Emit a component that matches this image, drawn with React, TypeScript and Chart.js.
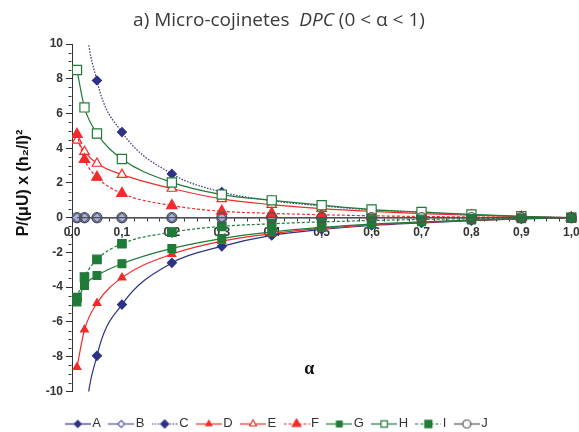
import React, { useEffect, useRef } from 'react';
import { Chart, registerables } from 'chart.js';

Chart.register(...registerables);

// ---------- data ----------
const alphaValues = [0.01, 0.025, 0.05, 0.1, 0.2, 0.3, 0.4, 0.5, 0.6, 0.7, 0.8, 0.9, 1.0];
const seriesLabels = ['A', 'B', 'C', 'D', 'E', 'F', 'G', 'H', 'I', 'J'];
const seriesA = [-22, -12.5, -7.95, -5.0, -2.6, -1.65, -1.02, -0.68, -0.45, -0.3, -0.17, -0.07, 0];
const seriesB = [0, 0, 0, 0, 0, 0, 0, 0, 0, 0, 0, 0, 0];
const seriesC = [22, 12.5, 7.9, 4.93, 2.52, 1.48, 0.98, 0.68, 0.45, 0.3, 0.17, 0.07, 0];
const seriesD = [-8.6, -6.45, -4.92, -3.45, -2.1, -1.35, -0.92, -0.62, -0.41, -0.27, -0.15, -0.06, 0];
const seriesE = [4.45, 3.8, 3.12, 2.48, 1.68, 1.08, 0.75, 0.52, 0.36, 0.24, 0.14, 0.06, 0];
const seriesF = [4.8, 3.35, 2.33, 1.4, 0.7, 0.37, 0.25, 0.17, 0.11, 0.07, 0.04, 0.02, 0];
const seriesG = [-4.85, -3.9, -3.33, -2.65, -1.77, -1.2, -0.82, -0.56, -0.37, -0.24, -0.14, -0.06, 0];
const seriesH = [8.5, 6.35, 4.85, 3.38, 2.03, 1.33, 1.0, 0.72, 0.47, 0.33, 0.19, 0.08, 0];
const seriesI = [-4.6, -3.42, -2.4, -1.5, -0.83, -0.5, -0.35, -0.24, -0.16, -0.1, -0.06, -0.03, 0];
const seriesJ = [0, 0, 0, 0, 0, 0, 0, 0, 0, 0, 0, 0, 0];
const xTickLabels = ['0,0', '0,1', '0,2', '0,3', '0,4', '0,5', '0,6', '0,7', '0,8', '0,9', '1,0'];
const yTickStep = 2;
const chartTitleParts = ['a) Micro-cojinetes  ', 'DPC', ' (0 < α < 1)'];
const yTitle = 'P/(μU) x (h₂/l)²';
const xTitle = 'α';

// ---------- styles ----------
const NAVY = '#2e3186';
const RED = '#f42a2a';
const GREEN = '#1f7b37';
const DARK = '#3a3a3a';

type Def = { data: number[]; color: string; style: string; filled: boolean; bg?: string; dash: number[]; r: number; lr: number };
const defs: Def[] = [
  { data: seriesA, color: NAVY, style: 'rectRot', filled: true, dash: [], r: 4.5, lr: 3.5 },
  { data: seriesB, color: '#4a55a0', style: 'rectRot', filled: false, bg: '#aab1d4', dash: [], r: 5, lr: 3.5 },
  { data: seriesC, color: NAVY, style: 'rectRot', filled: true, dash: [1.5, 1.5], r: 4.5, lr: 4 },
  { data: seriesD, color: RED, style: 'triangle', filled: true, dash: [], r: 4.5, lr: 3.5 },
  { data: seriesE, color: RED, style: 'triangle', filled: false, bg: '#ffffff', dash: [], r: 5.5, lr: 4 },
  { data: seriesF, color: RED, style: 'triangle', filled: true, dash: [3, 2], r: 6, lr: 5 },
  { data: seriesG, color: GREEN, style: 'rect', filled: true, dash: [], r: 5.5, lr: 4 },
  { data: seriesH, color: GREEN, style: 'rect', filled: false, bg: '#ffffff', dash: [], r: 6.5, lr: 4.5 },
  { data: seriesI, color: GREEN, style: 'rect', filled: true, dash: [3, 2], r: 6, lr: 5 },
  { data: seriesJ, color: '#505050', style: 'circle', filled: false, bg: 'rgba(0,0,0,0)', dash: [], r: 5, lr: 4 },
];

function shapePath(g: CanvasRenderingContext2D, style: string, x: number, y: number, r: number) {
  g.beginPath();
  if (style === 'rectRot') {
    g.moveTo(x, y - r); g.lineTo(x + r, y); g.lineTo(x, y + r); g.lineTo(x - r, y); g.closePath();
  } else if (style === 'triangle') {
    let a = 0;
    g.moveTo(x + Math.sin(a) * r, y - Math.cos(a) * r);
    a += (2 * Math.PI) / 3; g.lineTo(x + Math.sin(a) * r, y - Math.cos(a) * r);
    a += (2 * Math.PI) / 3; g.lineTo(x + Math.sin(a) * r, y - Math.cos(a) * r);
    g.closePath();
  } else if (style === 'rect') {
    const s = r * Math.SQRT1_2;
    g.rect(x - s, y - s, 2 * s, 2 * s);
  } else {
    g.arc(x, y, r, 0, Math.PI * 2);
  }
}

function makeIcon(d: Def): HTMLCanvasElement {
  const c = document.createElement('canvas');
  c.width = 26; c.height = 12;
  const g = c.getContext('2d') as CanvasRenderingContext2D;
  g.strokeStyle = d.color; g.lineWidth = 1.2;
  g.setLineDash(d.dash);
  g.beginPath(); g.moveTo(0, 6.5); g.lineTo(26, 6.5); g.stroke();
  g.setLineDash([]);
  shapePath(g, d.style, 13, 6.5, d.lr);
  g.fillStyle = d.filled ? d.color : '#ffffff';
  g.fill(); g.stroke();
  return c;
}

const decorPlugin = {
  id: 'decor',
  beforeDatasetsDraw(chart: any) {
    const { ctx, scales } = chart;
    const x = scales.x, y = scales.y;
    ctx.save();
    ctx.strokeStyle = '#333'; ctx.lineWidth = 1;
    const ax = Math.round(x.getPixelForValue(0)) - 0.5;
    for (let k = -20; k <= 20; k++) {
      if (k % 4 === 0) continue;
      const py = Math.round(y.getPixelForValue(k * 0.5)) + 0.5;
      ctx.beginPath(); ctx.moveTo(ax - 3, py); ctx.lineTo(ax, py); ctx.stroke();
    }
    const y0 = Math.round(y.getPixelForValue(0)) + 0.5;
    for (let k = 1; k < 40; k++) {
      if (k % 4 === 0) continue;
      const px = Math.round(x.getPixelForValue(k * 0.025)) + 0.5;
      ctx.beginPath(); ctx.moveTo(px, y0); ctx.lineTo(px, y0 + 3); ctx.stroke();
    }
    ctx.restore();
  },
  afterDraw(chart: any) {
    const { ctx, scales } = chart;
    ctx.save();
    // chart title with italic part
    const fonts = ['19px "Open Sans"', 'italic 19px "Open Sans"', '19px "Open Sans"'];
    let total = 0;
    const widths = chartTitleParts.map((t, i) => { ctx.font = fonts[i]; const w = ctx.measureText(t).width; total += w; return w; });
    let cx = 279 - total / 2;
    ctx.fillStyle = DARK; ctx.textBaseline = 'middle'; ctx.textAlign = 'left';
    chartTitleParts.forEach((t, i) => { ctx.font = fonts[i]; ctx.fillText(t, cx, 21); cx += widths[i]; });
    // y title
    ctx.save();
    ctx.translate(24, 183);
    ctx.rotate(-Math.PI / 2);
    ctx.font = 'bold 16px "Liberation Sans", Arial, sans-serif';
    ctx.fillStyle = '#111'; ctx.textAlign = 'center'; ctx.textBaseline = 'middle';
    ctx.fillText(yTitle, 0, 0);
    ctx.restore();
    // x title
    ctx.font = 'bold 18px "Liberation Serif", serif';
    ctx.fillStyle = '#111'; ctx.textAlign = 'center'; ctx.textBaseline = 'middle';
    ctx.fillText(xTitle, scales.x.getPixelForValue(0.475), scales.y.getPixelForValue(-8.75));
    ctx.restore();
  },
};

export default function App() {
  const ref = useRef<HTMLCanvasElement | null>(null);
  useEffect(() => {
    if (!ref.current) return;
    const icons = defs.map(makeIcon);
    const tickFont = { family: '"Liberation Sans", Arial, sans-serif', size: 12, weight: 'bold' as const };
    const chart = new Chart(ref.current, {
      type: 'line',
      data: {
        datasets: defs.map((d, i) => ({
          label: seriesLabels[i],
          data: alphaValues.map((a, k) => ({ x: a, y: d.data[k] })),
          xAxisID: 'x',
          yAxisID: 'y',
          borderColor: d.color,
          backgroundColor: d.filled ? d.color : d.bg,
          borderWidth: 1.2,
          borderDash: d.dash,
          pointStyle: d.style as any,
          pointRadius: d.r,
          pointHoverRadius: d.r,
          pointBorderWidth: 1.2,
          pointBorderColor: d.color,
          pointBackgroundColor: d.filled ? d.color : d.bg,
          tension: 0.4,
          cubicInterpolationMode: 'monotone' as const,
          fill: false,
          order: 10 - i,
          clip: { left: 0, top: 0, right: 8, bottom: 0 } as any,
        })),
      },
      options: {
        responsive: false,
        animation: false,
        events: [],
        layout: { padding: { left: -15, right: 6.5, top: 44, bottom: -8 } },
        scales: {
          x: {
            type: 'linear',
            min: 0,
            max: 1,
            position: { y: 0 } as any,
            afterFit: (s: any) => { s.paddingLeft = 0; s.paddingRight = 0; },
            ticks: {
              stepSize: 0.1,
              autoSkip: false,
              maxRotation: 0,
              color: '#333',
              font: tickFont,
              padding: 3,
              callback: (_v: any, i: number) => xTickLabels[i],
            },
            grid: { display: true, drawOnChartArea: false, drawTicks: true, tickLength: 5, color: '#333' },
            border: { display: true, color: '#111', width: 1.2 },
          },
          y: {
            type: 'linear',
            min: -10,
            max: 10,
            afterFit: (s: any) => { s.width = 87; },
            ticks: {
              stepSize: yTickStep,
              color: '#333',
              font: tickFont,
              padding: 3,
              callback: (v: any) => String(v),
            },
            grid: { display: true, drawOnChartArea: false, drawTicks: true, tickLength: 6, color: '#333' },
            border: { display: true, color: '#333', width: 1 },
          },
          pad: {
            type: 'linear',
            position: 'bottom',
            display: true,
            ticks: { display: false },
            grid: { display: false },
            border: { display: false },
            afterFit: (s: any) => { s.height = 13.3; },
          },
        },
        plugins: {
          title: { display: false },
          tooltip: { enabled: false },
          legend: {
            display: true,
            position: 'bottom',
            labels: {
              usePointStyle: true,
              pointStyleWidth: 16,
              boxHeight: 12,
              padding: 12.3,
              color: '#333',
              font: { family: '"Liberation Sans", Arial, sans-serif', size: 13 },
              generateLabels: (c: any) =>
                c.data.datasets.map((ds: any, i: number) => ({
                  text: ds.label,
                  pointStyle: icons[i],
                  fillStyle: defs[i].color,
                  strokeStyle: defs[i].color,
                  lineWidth: 0,
                  hidden: false,
                  datasetIndex: i,
                  fontColor: '#333',
                })),
            },
          },
        },
      },
      plugins: [decorPlugin],
    } as any);
    return () => chart.destroy();
  }, []);
  return (
    <div style={{ position: 'fixed', left: 0, top: 0, width: 579, height: 432, background: '#fff' }}>
      <canvas ref={ref} width={579} height={432} style={{ width: 579, height: 432, display: 'block' }} />
    </div>
  );
}
